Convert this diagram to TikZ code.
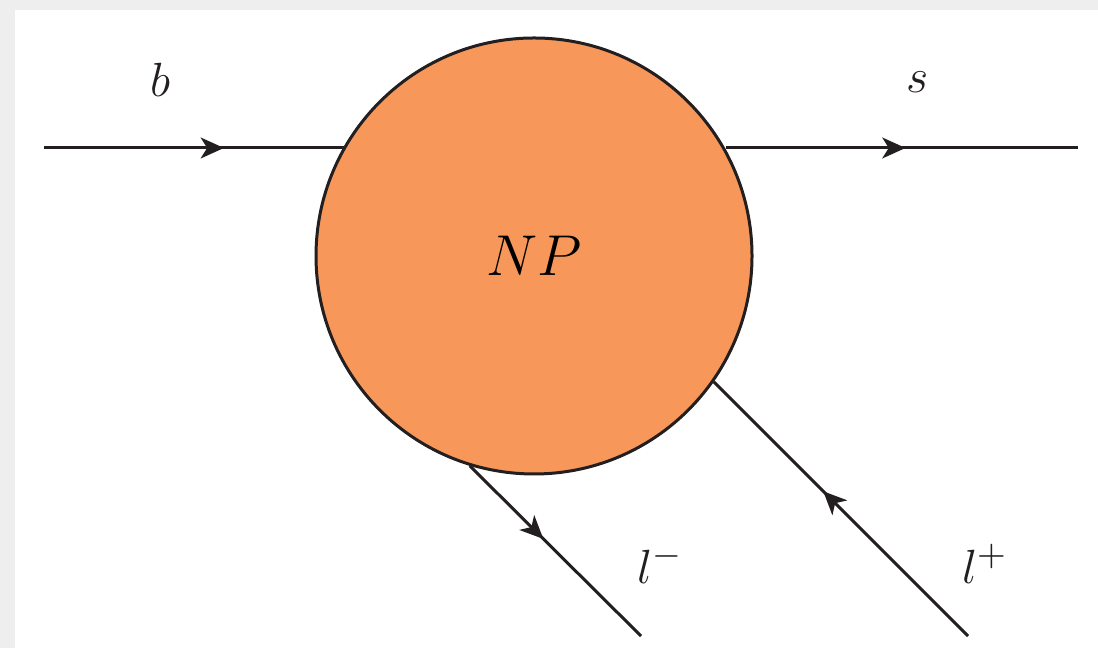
\documentclass[tikz,border=0pt]{standalone}
\usepackage{tikz}
\usetikzlibrary{arrows.meta,decorations.markings}
\definecolor{npfill}{HTML}{F7975A}
\definecolor{inkline}{HTML}{231F20}
\definecolor{bggray}{HTML}{EEEEEE}
\tikzset{
  fermion/.style={draw=inkline, line width=.75pt,
                  decoration={markings, mark=at position #1 with
                    {\arrow{Stealth[length=5.8pt, width=5.2pt, inset=1.6pt]}}},
                  postaction={decorate}},
  fermion/.default=.5,
  blob/.style={circle, draw=inkline, fill=npfill, line width=.75pt,
               minimum size=109pt, inner sep=0pt,
               font=\fontsize{14.5}{17}\selectfont},
  lbl/.style={font=\fontsize{12.5}{15}\selectfont, text=inkline}
}
\begin{document}
\begin{tikzpicture}[x=.25pt, y=-.25pt]
  \useasboundingbox (0,0) rectangle (1098,648);
  \fill[bggray] (0,0) rectangle (1098,648);
  \fill[white] (15,10) rectangle (1098,648);

  \node[blob] (np) at (534,256) {$NP$};

  \coordinate (bin) at (44,148);
  \coordinate (sout) at (1078,148);
  \coordinate (lmout) at (641,636);
  \coordinate (lpin) at (968,636);

  \node[lbl] (blbl) at (160,80) {$b$};
  \node[lbl] (slbl) at (918,82) {$s$};
  \node[lbl] (lmlbl) at (660,564) {$l^-$};
  \node[lbl] (lplbl) at (985,564) {$l^+$};

  \draw[fermion=.6] (bin) -- (bin -| np.150.53);
  \draw[fermion=.51] (sout -| np.29.47) -- (sout);
  \draw[fermion=.43] (np.253) -- (lmout);
  \draw[fermion=.57] (lpin) -- (np.-35.1);
\end{tikzpicture}
\end{document}
